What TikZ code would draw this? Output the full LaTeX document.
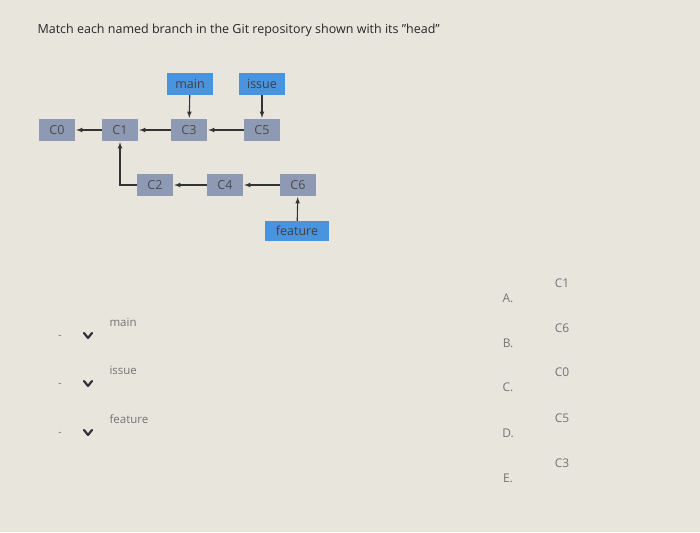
\documentclass[tikz,border=0pt]{standalone}
\usepackage{fontspec}
\setmainfont{Open Sans}
\begin{document}
\begin{tikzpicture}[x=1pt,y=-1pt,
  commit/.style={fill=cgray,minimum width=36pt,minimum height=22pt,inner sep=0pt,font=\fontsize{12.5}{13}\selectfont,text=black!70},
  branch/.style={fill=bblue,minimum width=46pt,minimum height=22pt,inner sep=0pt,font=\fontsize{12.5}{13}\selectfont,text=black!75},
  arr/.style={-latex,line width=1.1pt,black!80,shorten >=1pt},
  lbl/.style={font=\fontsize{11.5}{12}\selectfont,text=black!55,anchor=west},
  opt/.style={font=\fontsize{12}{13}\selectfont,text=black!55},
  chev/.style={line width=2.2pt,black!80,line cap=round,line join=round}]
\definecolor{cgray}{HTML}{8E99B3}
\definecolor{bblue}{HTML}{4A93DE}
\definecolor{bg}{HTML}{E8E6DC}
\fill[bg] (0,0) rectangle (700,532);
\useasboundingbox (0,0) rectangle (700,532);
\node[anchor=west,font=\fontsize{12.5}{14}\selectfont,text=black!85] (title) at (34,30) {Match each named branch in the Git repository shown with its "head"};
\node[commit] (c0) at (57,130) {C0};
\node[commit] (c1) at (120,130) {C1};
\node[commit] (c3) at (189,130) {C3};
\node[commit] (c5) at (262,130) {C5};
\node[commit] (c2) at (155,185) {C2};
\node[commit] (c4) at (225,185) {C4};
\node[commit] (c6) at (298,185) {C6};
\node[branch] (main) at (190,84) {main};
\node[branch] (issue) at (262,84) {issue};
\node[branch,minimum width=64pt,minimum height=20pt] (feature) at (297,231) {feature};
\draw[arr] (c1) -- (c0);
\draw[arr] (c3) -- (c1);
\draw[arr] (c5) -- (c3);
\draw[arr] (c4) -- (c2);
\draw[arr] (c6) -- (c4);
\draw[arr] (c2.west) -| (c1.south);
\draw[arr] (main) -- (c3);
\draw[arr] (issue) -- (c5);
\draw[arr] (feature) -- (c6);
\foreach \n/\t/\y in {m/main/322,i/issue/370,f/feature/419}{
  \node[font=\fontsize{10}{10}\selectfont,text=black!60] (d\n) at (60,\y+15) {-};
  \draw[chev] (84,\y+11) -- (88,\y+16) -- (92,\y+11);
  \node[lbl] (l\n) at (106,\y) {\t};
}
\foreach \k/\L/\C/\y in {a/A/C1/298,b/B/C6/343,c/C/C0/387,d/D/C5/433,e/E/C3/478}{
  \node[opt] (o\k) at (508,\y) {\L.};
  \node[opt] (v\k) at (562,\y-15) {\C};
}
\end{tikzpicture}
\end{document}
